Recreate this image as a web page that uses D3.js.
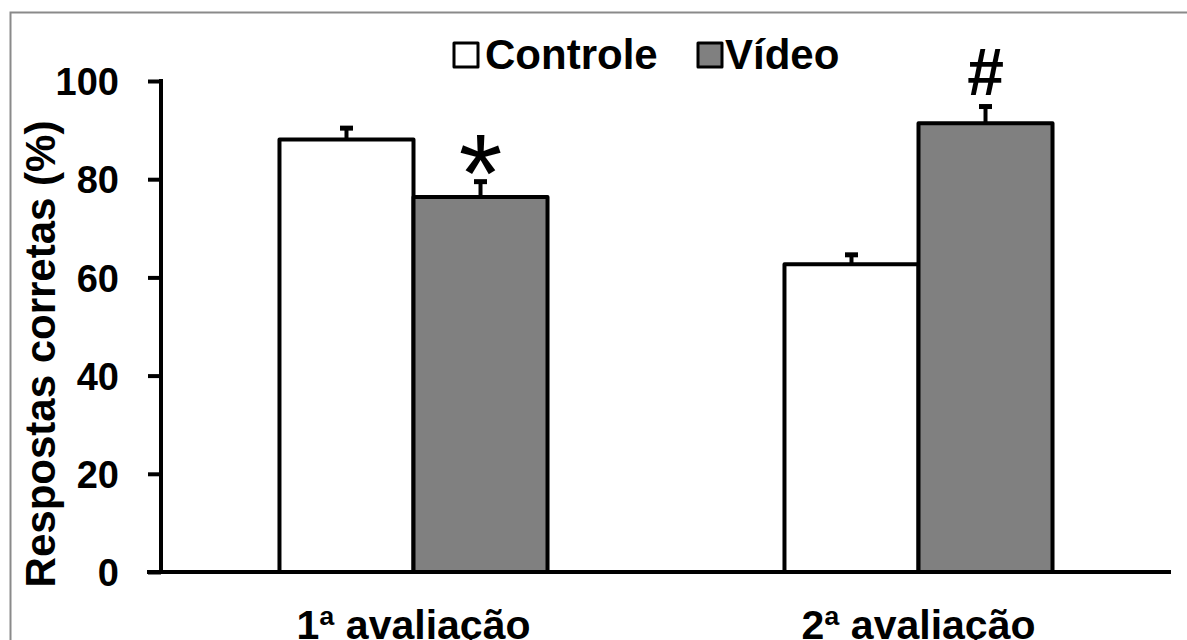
<!DOCTYPE html>
<html>
<head>
    <meta charset="UTF-8" />
    <title>Respostas corretas</title>
    <script src="https://d3js.org/d3.v7.min.js"></script>
    <style>
    body { margin: 0; background: #fff; }
    text { font-family: "Liberation Sans", Arial, sans-serif; font-weight: bold; fill: #000; }
    </style>
</head>
<body>
<div id="main"></div>
<script type="text/javascript">

// data
const groups = ['1ª avaliação', '2ª avaliação']
const series = ['Controle', 'Vídeo']
const controle = [88.1, 62.7]
const controleErr = [2.3, 1.9]
const video = [76.4, 91.4]
const videoErr = [3.1, 3.4]
const marks = ['*', '#']   // significance mark over the Vídeo bar in each group
const yTicks = [0, 20, 40, 60, 80, 100]

const fills = { 'Controle': '#ffffff', 'Vídeo': '#808080' }

const width = 1187
const height = 640

const data = []
groups.forEach((g, i) => {
  data.push({ group: g, serie: 'Controle', value: controle[i], err: controleErr[i] })
  data.push({ group: g, serie: 'Vídeo', value: video[i], err: videoErr[i] })
})

const svg = d3.select('#main').append('svg')
  .attr('width', width)
  .attr('height', height)

// outer frame
svg.append('rect')
  .attr('x', 10.5).attr('y', 12.5)
  .attr('width', 1200).attr('height', 700)
  .attr('fill', 'none')
  .attr('stroke', '#8a8a8a')
  .attr('stroke-width', 2)

const x0 = d3.scaleBand()
  .domain(groups)
  .range([161, 1171])
  .padding(0)

const x1 = d3.scaleBand()
  .domain(series)
  .range([0, x0.bandwidth()])
  .paddingInner(0)
  .paddingOuter(0.884)

const y = d3.scaleLinear()
  .domain([0, 100])
  .range([572, 81])

// bars
svg.selectAll('rect.bar').data(data).enter().append('rect')
  .attr('class', 'bar')
  .attr('x', d => x0(d.group) + x1(d.serie))
  .attr('y', d => y(d.value))
  .attr('width', x1.bandwidth())
  .attr('height', d => y(0) - y(d.value))
  .attr('fill', d => fills[d.serie])
  .attr('stroke', '#000')
  .attr('stroke-width', 4)
  .attr('stroke-linejoin', 'round')

// error bars (upper only)
const cx = d => x0(d.group) + x1(d.serie) + x1.bandwidth() / 2
svg.selectAll('line.err').data(data).enter().append('line')
  .attr('x1', cx).attr('x2', cx)
  .attr('y1', d => y(d.value))
  .attr('y2', d => y(d.value + d.err))
  .attr('stroke', '#000')
  .attr('stroke-width', 4)
svg.selectAll('line.cap').data(data).enter().append('line')
  .attr('x1', d => cx(d) - 6.5).attr('x2', d => cx(d) + 6.5)
  .attr('y1', d => y(d.value + d.err))
  .attr('y2', d => y(d.value + d.err))
  .attr('stroke', '#000')
  .attr('stroke-width', 5)

// significance marks
const videoData = data.filter(d => d.serie === 'Vídeo')
svg.selectAll('text.mark').data(videoData).enter().append('text')
  .attr('x', cx)
  .attr('y', (d, i) => y(d.value + d.err) + (i === 0 ? 30 : -12))
  .attr('text-anchor', 'middle')
  .style('font-weight', (d, i) => i === 0 ? 'normal' : 'bold')
  .style('font-size', (d, i) => i === 0 ? '112px' : '66px')
  .text((d, i) => marks[i])

// axes
const yAxis = d3.axisLeft(y).tickValues(yTicks).tickSize(13).tickPadding(29)
const gy = svg.append('g').attr('transform', `translate(${x0.range()[0]},0)`).call(yAxis)
gy.select('.domain').remove()
gy.selectAll('line').attr('stroke', '#000').attr('stroke-width', 4)
gy.selectAll('text').style('font-size', '38px').attr('dy', '0.36em')
gy.append('line')
  .attr('x1', 0).attr('x2', 0)
  .attr('y1', y(100) - 2).attr('y2', y(0))
  .attr('stroke', '#000').attr('stroke-width', 4)

const xAxis = d3.axisBottom(x0).tickSize(0).tickPadding(0)
const gx = svg.append('g').attr('transform', `translate(0,${y(0)})`).call(xAxis)
gx.select('.domain').remove()
gx.append('line')
  .attr('x1', 147).attr('x2', x0.range()[1])
  .attr('y1', 0).attr('y2', 0)
  .attr('stroke', '#000').attr('stroke-width', 4)
gx.selectAll('.tick text')
  .style('font-size', '41px')
  .attr('dy', 0)
  .attr('y', 67)

// y label
svg.append('text')
  .attr('transform', 'translate(55,354) rotate(-90)')
  .attr('text-anchor', 'middle')
  .style('font-size', '42px')
  .text('Respostas corretas (%)')

// legend
const legendX = [454, 698]
const legend = svg.selectAll('g.legend').data(series).enter().append('g')
  .attr('transform', (d, i) => `translate(${legendX[i]},43)`)
legend.append('rect')
  .attr('width', 24).attr('height', 24)
  .attr('fill', d => fills[d])
  .attr('stroke', '#000')
  .attr('stroke-width', 3)
  .attr('stroke-linejoin', 'round')
legend.append('text')
  .attr('x', (d, i) => i === 0 ? 31 : 27)
  .attr('y', 25.5)
  .style('font-size', '42px')
  .text(d => d)

</script>
</body>
</html>
